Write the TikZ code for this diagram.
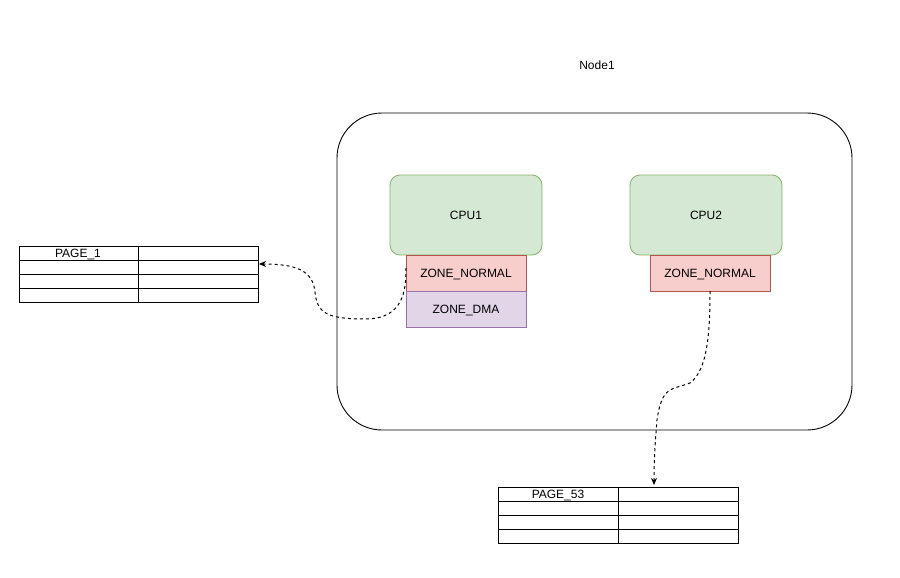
\documentclass[tikz,border=0pt]{standalone}
\usepackage{fontspec}
\setmainfont{Liberation Sans}
\usetikzlibrary{arrows.meta}
\definecolor{cpufill}{HTML}{D5E8D4}
\definecolor{cpudraw}{HTML}{82B366}
\definecolor{znfill}{HTML}{F8CECC}
\definecolor{zndraw}{HTML}{B85450}
\definecolor{dmafill}{HTML}{E1D5E7}
\definecolor{dmadraw}{HTML}{9673A6}
\tikzset{
  txt/.style={font=\fontsize{12}{14}\selectfont, inner sep=0pt, anchor=base, yshift=-4.3pt},
  cpubox/.style={draw=cpudraw, fill=cpufill, rounded corners=10pt, line width=0.8pt},
  znbox/.style={draw=zndraw, fill=znfill, line width=0.8pt},
  dmabox/.style={draw=dmadraw, fill=dmafill, line width=0.8pt},
  tbl/.style={draw=black, line width=0.9pt},
  link/.style={draw=black, dashed, line width=1pt, -{Stealth[length=7pt,width=6pt]}},
}
\begin{document}
\begin{tikzpicture}[x=1pt,y=-1pt]
\useasboundingbox (0,0) rectangle (900,578);
% Node1 container
\node[txt] (n1lbl) at (597,65) {Node1};
\draw[line width=0.9pt, rounded corners=45pt] (337,113) rectangle (852,430);
\coordinate (node1) at (594,271);
% CPUs
\draw[cpubox] (390,175) rectangle (542,255);
\node[txt] (cpu1) at (466,215) {CPU1};
\draw[cpubox] (630,175) rectangle (782,255);
\node[txt] (cpu2) at (706,215) {CPU2};
% zones
\draw[znbox] (406,255) rectangle (526,291);
\node[txt] (zn1) at (466,273) {ZONE\_NORMAL};
\draw[dmabox] (406,291) rectangle (526,327);
\node[txt] (dma1) at (466,309) {ZONE\_DMA};
\draw[znbox] (650,255) rectangle (770,291);
\node[txt] (zn2) at (710,273) {ZONE\_NORMAL};
\coordinate (zn1w) at (406,268);
\coordinate (zn2s) at (710,291);
% table 1
\draw[tbl] (19,246) rectangle (258,302);
\foreach \y in {260,274,288} \draw[tbl] (19,\y) -- (258,\y);
\draw[tbl] (138,246) -- (138,302);
\node[txt] (p1) at (78,253) {PAGE\_1};
\coordinate (t1e) at (259,264);
% table 2
\draw[tbl] (498,487) rectangle (738,543);
\foreach \y in {501,515,529} \draw[tbl] (498,\y) -- (738,\y);
\draw[tbl] (618,487) -- (618,543);
\node[txt] (p53) at (558,494) {PAGE\_53};
\coordinate (t2n) at (654,485);
% connectors
\draw[link] (zn1w) .. controls (406,290) and (404,319) .. (365,319)
  .. controls (325,319) and (317,312) .. (315,292)
  .. controls (313,270) and (295,264) .. (t1e);
\draw[link] (zn2s) .. controls (710,330) and (708,370) .. (690,383)
  .. controls (672,390) and (662,385) .. (657,420)
  .. controls (655,445) and (654,460) .. (t2n);
\end{tikzpicture}
\end{document}
